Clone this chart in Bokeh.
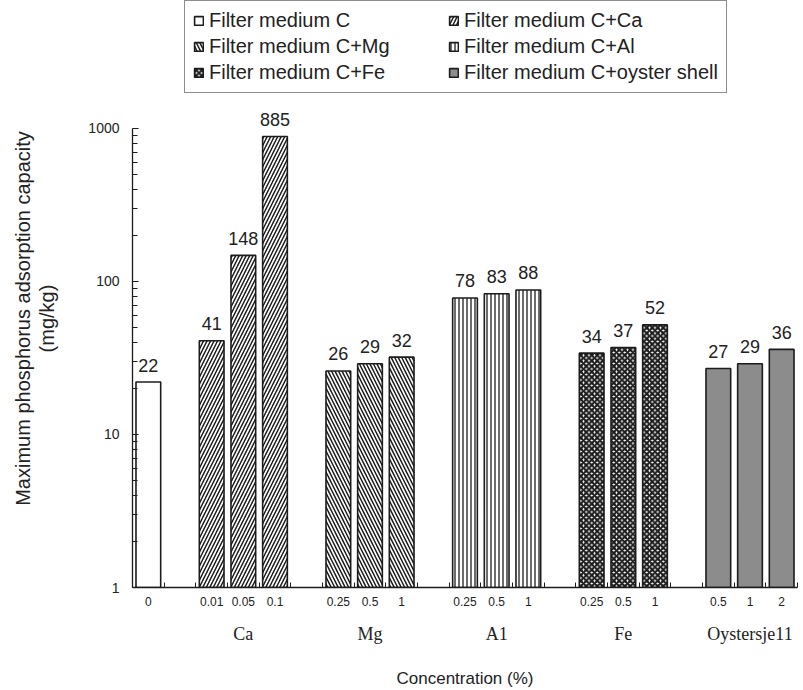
import math
from bokeh.plotting import figure
from bokeh.models import Range1d, FixedTicker, LinearAxis, Legend, LegendItem, ColumnDataSource, Title
from bokeh.embed import file_html
from bokeh.resources import INLINE

# ---------------- data ----------------
series_names = [
    "Filter medium C",
    "Filter medium C+Ca",
    "Filter medium C+Mg",
    "Filter medium C+Al",
    "Filter medium C+Fe",
    "Filter medium C+oyster shell",
]
conc_C = ["0"]
conc_Ca = ["0.01", "0.05", "0.1"]
conc_Mg = ["0.25", "0.5", "1"]
conc_Al = ["0.25", "0.5", "1"]
conc_Fe = ["0.25", "0.5", "1"]
conc_Oy = ["0.5", "1", "2"]

val_C = [22]
val_Ca = [41, 148, 885]
val_Mg = [26, 29, 32]
val_Al = [78, 83, 88]
val_Fe = [34, 37, 52]
val_Oy = [27, 29, 36]

group_labels = ["", "Ca", "Mg", "A1", "Fe", "Oystersje11"]
y_tick_values = [1, 10, 100, 1000]
y_title_lines = ["Maximum phosphorus adsorption capacity", "(mg/kg)"]
x_title = "Concentration (%)"

concentrations = [conc_C, conc_Ca, conc_Mg, conc_Al, conc_Fe, conc_Oy]
values = [val_C, val_Ca, val_Mg, val_Al, val_Fe, val_Oy]

# ---------------- styles ----------------
INK = "#1c1c1c"
TXT = "#222222"
SANS = "Liberation Sans"
SERIF = "Liberation Serif"
styles = [
    dict(fill_color="white"),
    dict(fill_color="white", hatch_pattern="/", hatch_scale=7, hatch_weight=1.5, hatch_color=INK),
    dict(fill_color="white", hatch_pattern="\\", hatch_scale=7, hatch_weight=1.5, hatch_color=INK),
    dict(fill_color="white", hatch_pattern="|", hatch_scale=4, hatch_weight=1.3, hatch_color=INK),
    dict(fill_color="white", hatch_pattern="x", hatch_scale=5.5, hatch_weight=2.2, hatch_color=INK),
    dict(fill_color="#8c8c8c"),
]

# slot layout: one empty slot between groups
starts = []
s = 0
for c in concentrations:
    starts.append(s)
    s += len(c) + 1
n_slots = s - 1

# pixel geometry
FRAME_LEFT, FRAME_RIGHT = 132, 797
FRAME_TOP, FRAME_BOTTOM = 0, 592
PX_1000 = 129
decade = (FRAME_BOTTOM - PX_1000) / 3.0
y_end = 10 ** ((FRAME_BOTTOM - FRAME_TOP) / decade)

W, H = 803, 690
p = figure(width=W, height=H, x_range=Range1d(0, n_slots), y_range=Range1d(1, y_end),
           y_axis_type="log", output_backend="svg", toolbar_location=None,
           min_border_left=FRAME_LEFT, min_border_right=W - FRAME_RIGHT,
           min_border_top=FRAME_TOP, min_border_bottom=H - FRAME_BOTTOM)
p.outline_line_color = None
p.grid.visible = False
p.background_fill_color = "white"
p.border_fill_color = "white"

legend_items = []
centers_all = []
labels_all = []
for k, (name, conc, vals, st) in enumerate(zip(series_names, concentrations, values, styles)):
    xs = [starts[k] + i + 0.5 for i in range(len(vals))]
    centers_all += xs
    labels_all += conc
    src = ColumnDataSource(dict(x=xs, top=vals, bottom=[1] * len(vals), lab=[str(v) for v in vals]))
    r = p.vbar(x="x", top="top", bottom="bottom", width=0.78, source=src,
               line_color=INK, line_width=1.6, **st)
    p.text(x="x", y="top", text="lab", source=src, text_align="center",
           text_baseline="alphabetic", y_offset=-17, text_font_size="18px",
           text_font={"value": SANS}, text_color=TXT)
    legend_items.append(LegendItem(label=name, renderers=[r]))

# ---------------- y axis ----------------
ya = p.yaxis[0]
minor = [m * 10 ** d for d in range(3) for m in range(2, 10)]
ya.ticker = FixedTicker(ticks=y_tick_values, minor_ticks=minor)
ya.bounds = (1, 1000)
ya.major_label_overrides = {v: str(v) for v in y_tick_values}
ya.major_tick_in = 6
ya.major_tick_out = 0
ya.minor_tick_in = 5
ya.minor_tick_out = 0
ya.axis_line_color = INK
ya.axis_line_width = 1.3
ya.major_tick_line_color = INK
ya.minor_tick_line_color = INK
ya.major_label_standoff = 13
ya.major_label_text_font = SANS
ya.major_label_text_font_size = "14px"
ya.major_label_text_color = TXT

# label-less axis used only as a spacer between the tick labels and the titles
spacer = LinearAxis(ticker=FixedTicker(ticks=[y_tick_values[0]], minor_ticks=[]),
                    major_tick_out=27, major_tick_in=0, minor_tick_out=0, minor_tick_in=0,
                    axis_line_color=None, major_tick_line_color="white",
                    minor_tick_line_color=None, major_label_text_color=None,
                    major_label_standoff=0)
p.add_layout(spacer, "left")

# y title: two side titles, each line centred at TITLE_CY
TITLE_CY = 323
TITLE_PX = 20
EM = {"M": .833, "a": .556, "x": .5, "i": .222, "m": .833, "u": .556, " ": .278, "p": .556,
      "h": .556, "o": .556, "s": .5, "r": .333, "d": .556, "t": .278, "n": .556, "c": .5,
      "y": .5, "(": .333, ")": .333, "g": .556, "/": .278, "k": .5}


def text_len(t):
    return sum(EM.get(ch, .556) for ch in t) * TITLE_PX


for line in reversed(y_title_lines):
    start_y = TITLE_CY + text_len(line) / 2.0
    p.add_layout(Title(text=line, align="left", vertical_align="middle",
                       offset=FRAME_BOTTOM - start_y, standoff=0,
                       text_font=SANS, text_font_size=f"{TITLE_PX}px",
                       text_font_style="normal", text_color=TXT), "left")

# ---------------- x axes ----------------
xa = p.xaxis[0]
boundaries = list(range(1, n_slots + 1))
xa.ticker = FixedTicker(ticks=centers_all, minor_ticks=boundaries)
xa.major_label_overrides = {c: l for c, l in zip(centers_all, labels_all)}
xa.major_tick_in = 0
xa.major_tick_out = 0
xa.minor_tick_in = 5
xa.minor_tick_out = 0
xa.axis_line_color = INK
xa.axis_line_width = 1.3
xa.minor_tick_line_color = INK
xa.major_label_standoff = 9
xa.major_label_text_font = SANS
xa.major_label_text_font_size = "12px"
xa.major_label_text_color = TXT

group_pos = []
group_txt = []
for k, g in enumerate(group_labels):
    if g:
        group_pos.append(starts[k] + len(concentrations[k]) / 2.0)
        group_txt.append(g)
xg = LinearAxis(ticker=FixedTicker(ticks=group_pos, minor_ticks=[]))
xg.major_label_overrides = {c: l for c, l in zip(group_pos, group_txt)}
xg.axis_line_color = None
xg.major_tick_line_color = None
xg.minor_tick_line_color = None
xg.major_label_standoff = 9
xg.major_label_text_font = SERIF
xg.major_label_text_font_size = "18px"
xg.major_label_text_color = TXT
xg.axis_label = x_title
xg.axis_label_text_font = SANS
xg.axis_label_text_font_size = "17px"
xg.axis_label_text_font_style = "normal"
xg.axis_label_text_color = TXT
xg.axis_label_standoff = 22
p.add_layout(xg, "below")

# ---------------- legend ----------------
legend = Legend(items=legend_items, location=(184 - FRAME_LEFT, FRAME_BOTTOM - 98),
                orientation="horizontal", nrows=3)
legend.label_text_font = SANS
legend.label_text_font_size = "20px"
legend.label_text_color = TXT
legend.glyph_width = 11
legend.glyph_height = 11
legend.label_standoff = 5
legend.label_height = 22
legend.label_width = 236
legend.spacing = 3
legend.padding = 8
legend.margin = 0
legend.border_line_color = INK
legend.border_line_width = 1.2
legend.background_fill_color = "white"
legend.background_fill_alpha = 1
p.add_layout(legend, "center")

open("out.html", "w").write(file_html(p, INLINE))
